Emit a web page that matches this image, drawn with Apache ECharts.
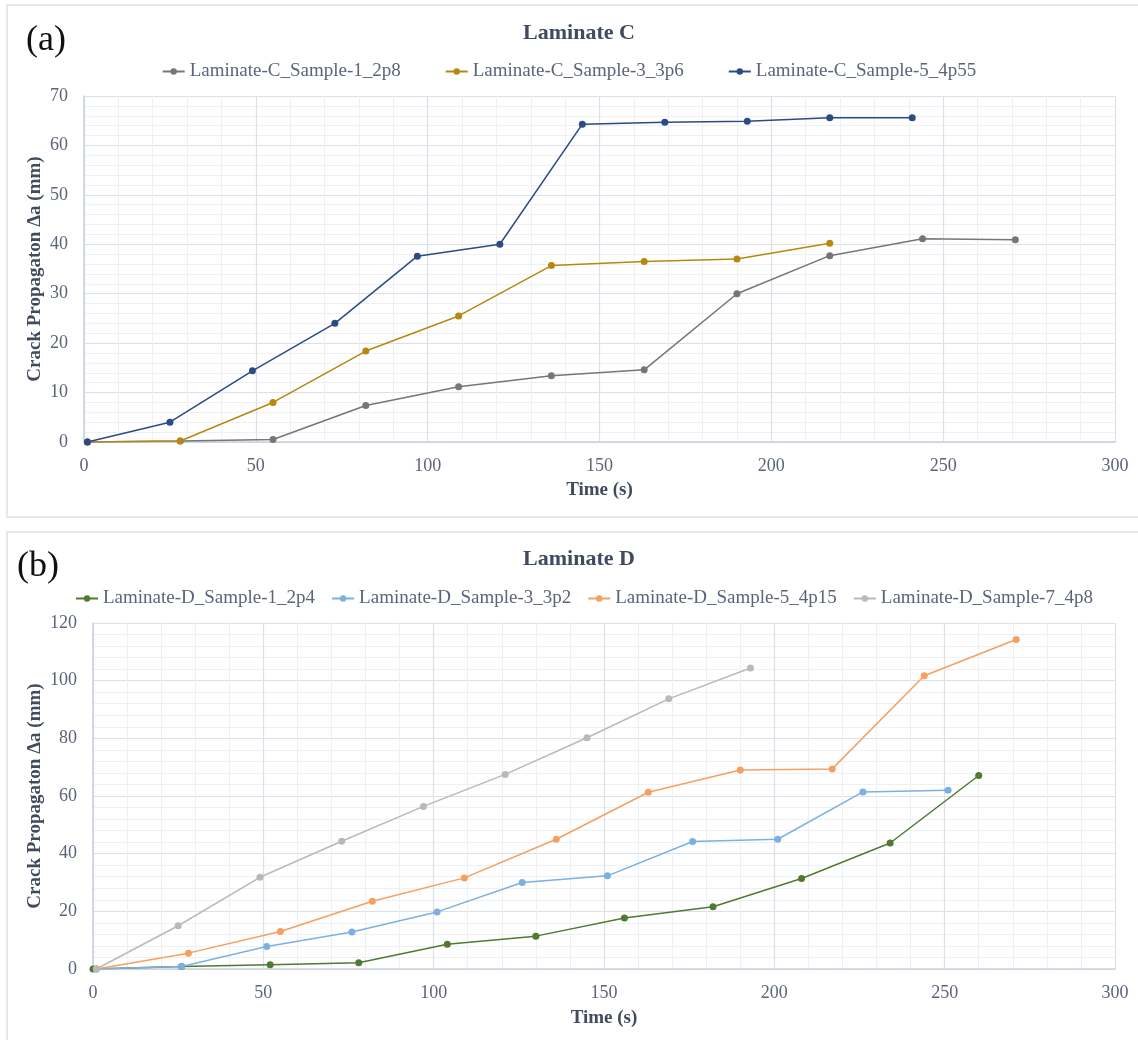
<!DOCTYPE html>
<html>
<head>
<meta charset="utf-8">
<script src="https://cdn.jsdelivr.net/npm/echarts@6/dist/echarts.min.js"></script>
<style>
  html, body { margin: 0; padding: 0; background: #ffffff; }
  #chart { width: 1138px; height: 1040px; }
</style>
</head>
<body>
<div id="chart"></div>
<script>
// Laminate C: crack growth over time for three samples
const namesC = ['Laminate-C_Sample-1_2p8', 'Laminate-C_Sample-3_3p6', 'Laminate-C_Sample-5_4p55'];
const timeC1 = [1, 28, 55, 82, 109, 136, 163, 190, 217, 244, 271];
const crackC1 = [0, 0.2, 0.5, 7.4, 11.2, 13.4, 14.6, 30.0, 37.7, 41.1, 40.9];
const timeC3 = [1, 28, 55, 82, 109, 136, 163, 190, 217];
const crackC3 = [0, 0.2, 8.0, 18.4, 25.5, 35.7, 36.5, 37.0, 40.2];
const timeC5 = [1, 25, 49, 73, 97, 121, 145, 169, 193, 217, 241];
const crackC5 = [0, 4.0, 14.4, 24.0, 37.6, 40.0, 64.3, 64.7, 64.9, 65.6, 65.6];

// Laminate D: crack growth over time for four samples
const namesD = ['Laminate-D_Sample-1_2p4', 'Laminate-D_Sample-3_3p2', 'Laminate-D_Sample-5_4p15', 'Laminate-D_Sample-7_4p8'];
const timeD1 = [0, 26, 52, 78, 104, 130, 156, 182, 208, 234, 260];
const crackD1 = [0, 0.9, 1.5, 2.2, 8.6, 11.4, 17.7, 21.6, 31.4, 43.7, 67.1];
const timeD3 = [1, 26, 51, 76, 101, 126, 151, 176, 201, 226, 251];
const crackD3 = [0, 0.9, 7.8, 12.8, 19.8, 30.0, 32.3, 44.2, 45.0, 61.4, 62.0];
const timeD5 = [1, 28, 55, 82, 109, 136, 163, 190, 217, 244, 271];
const crackD5 = [0, 5.5, 13.0, 23.5, 31.6, 45.0, 61.3, 69.0, 69.4, 101.7, 114.3];
const timeD7 = [1, 25, 49, 73, 97, 121, 145, 169, 193];
const crackD7 = [0, 15.0, 31.8, 44.3, 56.4, 67.5, 80.2, 93.7, 104.4];

const colorsC = ['#767676', '#B8870F', '#2C4A86'];
const colorsD = ['#4F7A30', '#7DB0E2', '#F5A060', '#B9B9B9'];

const SERIF = '"Liberation Serif", "DejaVu Serif", serif';
const TICK_COLOR = '#5B6478';
const NAME_COLOR = '#404B5E';

function zip(xs, ys) {
  return xs.map((x, i) => [x, ys[i]]);
}

function makeSeries(name, color, xs, ys, idx) {
  return {
    type: 'line',
    name: name,
    xAxisIndex: idx,
    yAxisIndex: idx,
    data: zip(xs, ys),
    symbol: 'circle',
    symbolSize: 7,
    color: color,
    lineStyle: { width: 1.5, color: color },
    itemStyle: { color: color },
    emphasis: { disabled: true },
    animation: false
  };
}

function xAxisFor(idx, gap) {
  return {
    type: 'value',
    gridIndex: idx,
    min: 0, max: 300, interval: 50,
    name: 'Time (s)',
    nameLocation: 'middle',
    nameGap: gap,
    nameMoveOverlap: false,
    nameTextStyle: { fontFamily: SERIF, fontWeight: 'bold', fontSize: 19, color: NAME_COLOR },
    axisLine: { show: true, lineStyle: { color: '#C9D0DC', width: 1.5 } },
    axisTick: { show: false },
    axisLabel: { fontFamily: SERIF, fontSize: 18, color: TICK_COLOR, margin: 15 },
    splitLine: { show: true, lineStyle: { color: '#DCE1E9', width: 1.2 } },
    minorTick: { show: false, splitNumber: 5 },
    minorSplitLine: { show: true, lineStyle: { color: '#EDF0F4', width: 1 } }
  };
}

function yAxisFor(idx, max, interval, gap) {
  return {
    type: 'value',
    gridIndex: idx,
    min: 0, max: max, interval: interval,
    name: 'Crack Propagaton \u0394a (mm)',
    nameLocation: 'middle',
    nameGap: gap,
    nameRotate: 90,
    nameMoveOverlap: false,
    nameTextStyle: { fontFamily: SERIF, fontWeight: 'bold', fontSize: 19, color: NAME_COLOR },
    axisLine: { show: true, lineStyle: { color: '#C9D0DC', width: 1.5 } },
    axisTick: { show: false },
    axisLabel: { fontFamily: SERIF, fontSize: 18, color: TICK_COLOR, margin: 16 },
    splitLine: { show: true, lineStyle: { color: '#DCE1E9', width: 1.2 } },
    minorTick: { show: false, splitNumber: 5 },
    minorSplitLine: { show: true, lineStyle: { color: '#EDF0F4', width: 1 } }
  };
}

const chart = echarts.init(document.getElementById('chart'), null, { renderer: 'canvas' });

const option = {
  backgroundColor: '#ffffff',
  animation: false,
  title: [
    {
      text: 'Laminate C', left: 574, top: 17, textAlign: 'center',
      textStyle: { fontFamily: SERIF, fontWeight: 'bold', fontSize: 22, color: NAME_COLOR }
    },
    {
      text: 'Laminate D', left: 574, top: 543, textAlign: 'center',
      textStyle: { fontFamily: SERIF, fontWeight: 'bold', fontSize: 22, color: NAME_COLOR }
    }
  ],
  legend: [
    {
      data: namesC, left: 'center', top: 57,
      itemWidth: 22, itemHeight: 8, itemGap: 44,
      textStyle: { fontFamily: SERIF, fontSize: 19, color: TICK_COLOR },
      selectedMode: false
    },
    {
      data: namesD, left: 70, top: 584,
      itemWidth: 22, itemHeight: 8, itemGap: 16,
      textStyle: { fontFamily: SERIF, fontSize: 19, color: TICK_COLOR },
      selectedMode: false
    }
  ],
  grid: [
    { left: 84, top: 96, width: 1031, height: 346 },
    { left: 93, top: 623, width: 1022, height: 346 }
  ],
  xAxis: [xAxisFor(0, 39), xAxisFor(1, 40)],
  yAxis: [yAxisFor(0, 70, 10, 39), yAxisFor(1, 120, 20, 48)],
  graphic: [
    {
      type: 'rect', silent: true, z: -10,
      shape: { x: 7, y: 5, width: 1145, height: 512 },
      style: { fill: 'none', stroke: '#E4E7EC', lineWidth: 2 }
    },
    {
      type: 'rect', silent: true, z: -10,
      shape: { x: 7, y: 532, width: 1145, height: 520 },
      style: { fill: 'none', stroke: '#E4E7EC', lineWidth: 2 }
    },
    {
      type: 'text', left: 26, top: 23, silent: true,
      style: { text: '(a)', font: '36px ' + SERIF, fill: '#111111' }
    },
    {
      type: 'text', left: 17, top: 549, silent: true,
      style: { text: '(b)', font: '36px ' + SERIF, fill: '#111111' }
    }
  ],
  series: [
    makeSeries(namesC[0], colorsC[0], timeC1, crackC1, 0),
    makeSeries(namesC[1], colorsC[1], timeC3, crackC3, 0),
    makeSeries(namesC[2], colorsC[2], timeC5, crackC5, 0),
    makeSeries(namesD[0], colorsD[0], timeD1, crackD1, 1),
    makeSeries(namesD[1], colorsD[1], timeD3, crackD3, 1),
    makeSeries(namesD[2], colorsD[2], timeD5, crackD5, 1),
    makeSeries(namesD[3], colorsD[3], timeD7, crackD7, 1)
  ]
};

chart.setOption(option);
</script>
</body>
</html>
